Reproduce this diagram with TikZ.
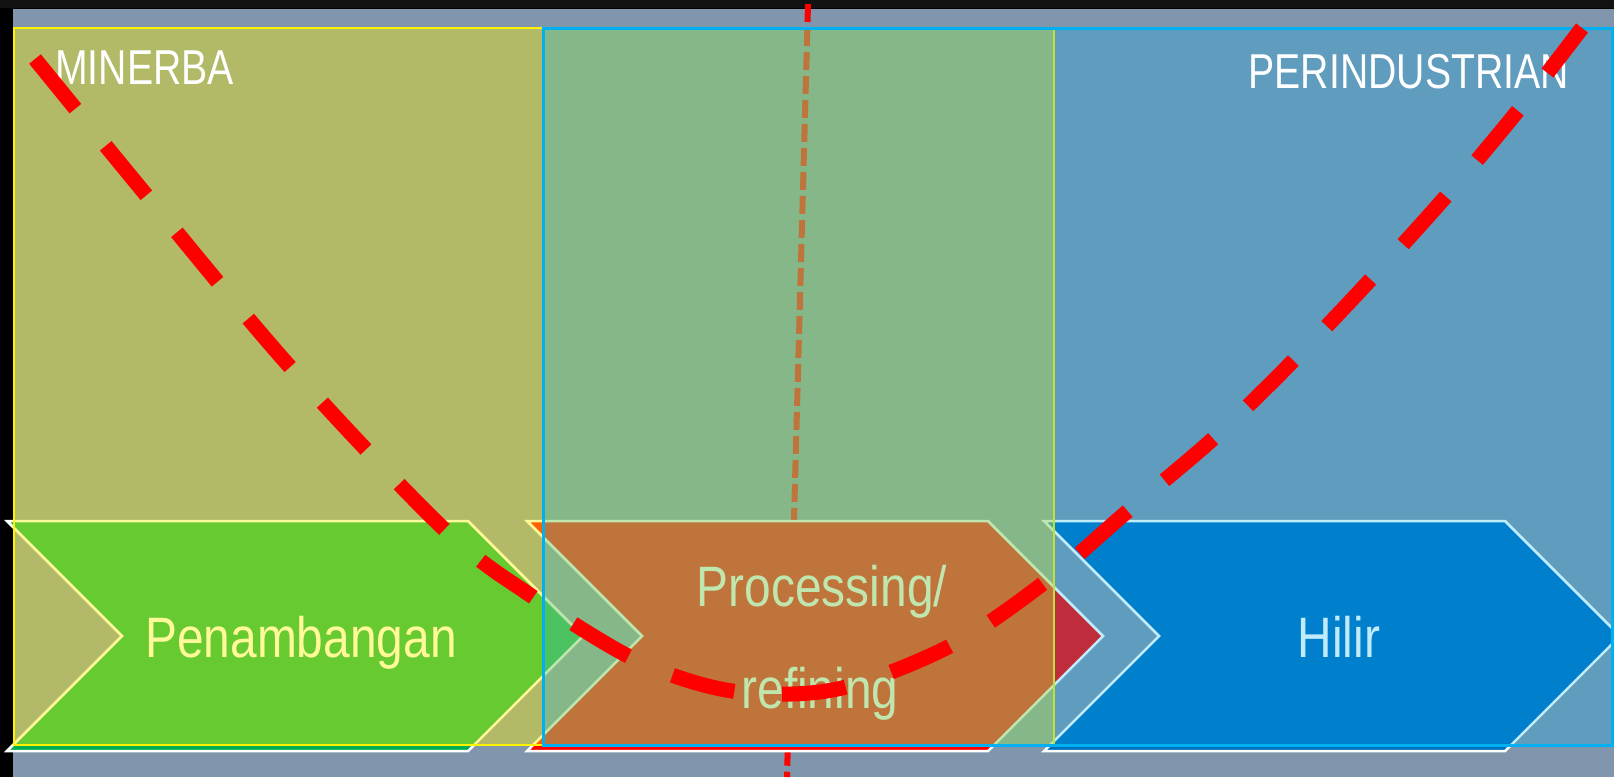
\documentclass[tikz,border=0pt]{standalone}
\usepackage{fontspec}
\newfontfamily\nar{Liberation Sans}[FakeStretch=0.8]
\newfontfamily\narw{Liberation Sans}[FakeStretch=0.84]
\definecolor{slate}{RGB}{128,150,172}
\definecolor{topgray}{RGB}{18,18,18}
\definecolor{cgreen}{RGB}{0,176,80}
\definecolor{cblue}{RGB}{0,112,192}
\definecolor{ccyan}{RGB}{0,176,240}
\begin{document}
\begin{tikzpicture}[x=1pt,y=-1pt,
  chevbox/.style={draw=white,line width=2.5pt,line join=miter},
  lbl/.style={inner sep=0pt,text=white,font=\nar\fontsize{49}{49}\selectfont},
  chevtext/.style={inner sep=0pt,text=white,font=\narw\fontsize{57}{57}\selectfont},
  redcurve/.style={draw=red,line width=15pt,dash pattern=on 64pt off 48pt,line cap=butt}]
\useasboundingbox (0,0) rectangle (1614,777);
% frame and background
\fill[black] (0,0) rectangle (1614,777);
\fill[topgray] (0,0) rectangle (1614,8);
\fill[slate] (13,9) rectangle (1614,777);
% vertical dashed divider (under the boxes)
\coordinate (vtop) at (808,4);
\coordinate (vbot) at (787,777);
\draw[red,line width=6pt,dash pattern=on 18pt off 6pt] (vtop) -- (vbot);
% chevrons
\filldraw[chevbox,fill=cgreen] (7,521) -- (468,521) -- (583,636) -- (468,751) -- (7,751) -- (122,636) -- cycle;
\filldraw[chevbox,fill=red] (527,521) -- (988,521) -- (1103,636) -- (988,751) -- (527,751) -- (642,636) -- cycle;
\filldraw[chevbox,fill=cblue] (1044,521) -- (1505,521) -- (1620,636) -- (1505,751) -- (1044,751) -- (1159,636) -- cycle;
% chevron texts
\node[chevtext,anchor=base] (pen) at (301,657) {Penambangan};
\node[chevtext,anchor=base] (proc) at (822,606) {Processing/};
\node[chevtext,anchor=base] (ref) at (820,708) {refining};
\node[chevtext,anchor=base] (hil) at (1339,657) {Hilir};
% translucent boxes
\fill[yellow,fill opacity=0.4] (14,28) rectangle (1054,745);
\draw[yellow,line width=2.5pt] (14,28) rectangle (1054,745);
\fill[ccyan,fill opacity=0.25] (543,28) rectangle (1612,745);
\draw[ccyan,line width=3pt] (543,28) rectangle (1612,745);
% box labels
\node[lbl,anchor=base west] (minerba) at (55,84) {MINERBA};
\node[lbl,anchor=base east] (perin) at (1569,88) {PERINDUSTRIAN};
% red dashed curve
\draw[redcurve] plot[smooth,tension=0.55] coordinates {(35,59) (147,196) (291,368) (445,530) (533,597) (628,656) (700,684) (765,694) (846,687) (952,645) (1045,582) (1129,510) (1215,437) (1295,359) (1372,278) (1448,194) (1516,113) (1582,28)};
\end{tikzpicture}
\end{document}
